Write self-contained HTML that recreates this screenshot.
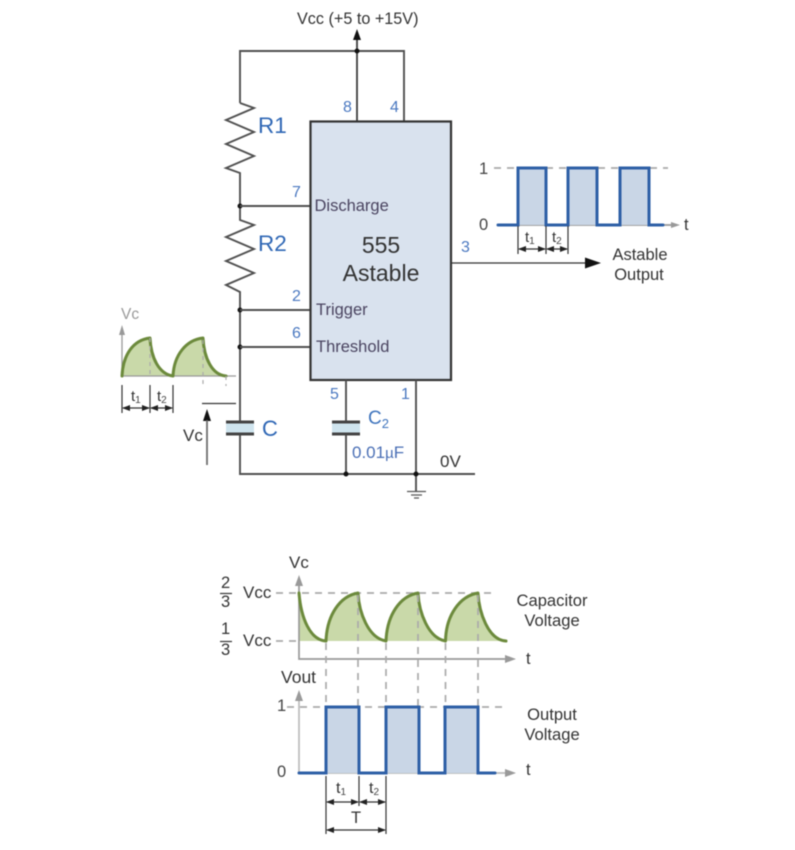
<!DOCTYPE html>
<html><head><meta charset="utf-8"><style>
html,body{margin:0;padding:0;background:#fff}
svg{display:block;filter:blur(0.45px)}
text{font-family:"Liberation Sans",sans-serif;fill:#333}
.p{fill:#4a78c0;font-size:16px}
.b{fill:#2f67b5}
.w{stroke:#505050;stroke-width:1.9;fill:none}
.k{stroke:#333;stroke-width:1.2;fill:none}
.d{stroke:#aaa;stroke-width:1.7;fill:none;stroke-dasharray:7 6}
.a{stroke:#999;stroke-width:1.7;fill:none}
.g{fill:#c9d9a9;stroke:none}
.gl{fill:none;stroke:#6c8a3c;stroke-width:3;stroke-linejoin:round;stroke-linecap:round}
.pf{fill:#c9d6e6;stroke:none}
.pl{fill:none;stroke:#2e5fa6;stroke-width:3;stroke-linejoin:miter;stroke-linecap:round}
.s{font-size:10px}
</style></head><body>
<svg width="795" height="850" viewBox="0 0 795 850" xmlns="http://www.w3.org/2000/svg">
<defs>
<marker id="m" markerWidth="8" markerHeight="6" refX="7" refY="3" orient="auto-start-reverse" markerUnits="userSpaceOnUse"><path d="M0 0L8 3L0 6Z" fill="#222"/></marker>
</defs>

<!-- Top wiring -->
<path class="w" d="M240 103V51H404V121"/>
<path class="k" style="stroke-width:1.7" d="M357 121V38"/>
<path d="M357 29L353 40H361Z" fill="#111"/>
<circle cx="357" cy="51" r="2.5" fill="#111"/>
<text x="297" y="24" font-size="16.200">Vcc (+5 to +15V)</text>
<text class="p" x="343" y="112">8</text>
<text class="p" x="390" y="112">4</text>

<!-- Resistors -->
<path class="w" d="M240 103L254 108L226 120L254 132L226 144L254 156L226 168L240 173V220L254 225L226 237L254 249L226 261L254 273L226 285L240 292V474H475"/>
<text class="b" x="258" y="133" font-size="22.500">R1</text>
<text class="b" x="258" y="251" font-size="22.500">R2</text>
<circle cx="240" cy="206" r="2.5" fill="#111"/>
<circle cx="240" cy="310" r="2.5" fill="#111"/>
<circle cx="240" cy="347" r="2.5" fill="#111"/>
<path class="w" d="M240 206H311M240 310H311M240 347H311"/>
<text class="p" x="292" y="197">7</text>
<text class="p" x="292" y="301">2</text>
<text class="p" x="292" y="338">6</text>

<!-- 555 box -->
<rect x="310.500" y="121.500" width="140.500" height="258.500" fill="#d9e2ee" stroke="#333" stroke-width="2.200"/>
<text x="314.500" y="211" font-size="16.500" style="fill:#4a4460">Discharge</text>
<text x="316" y="315" font-size="16.500" style="fill:#4a4460">Trigger</text>
<text x="316" y="352" font-size="16.500" style="fill:#4a4460">Threshold</text>
<text x="381" y="253" font-size="23" text-anchor="middle">555</text>
<text x="381" y="281" font-size="23" text-anchor="middle">Astable</text>

<!-- Output -->
<path class="k" d="M451 263H588"/>
<path d="M601 263L585 257.500V268.500Z" fill="#111"/>
<text class="p" x="461" y="252">3</text>
<text x="640" y="260" font-size="16.500" text-anchor="middle">Astable</text>
<text x="639" y="280" font-size="16.500" text-anchor="middle">Output</text>

<!-- Top right pulse -->
<path class="d" d="M494 168H668"/>
<path class="a" d="M497 225H672"/>
<path d="M680 225L671 222V228Z" fill="#999"/>
<path class="pf" d="M518 168H546V225H518ZM568 168H597V225H568ZM620 168H649V225H620Z"/>
<path class="pl" d="M498 225H518V168H546V225H568V168H597V225H620V168H649V225H663"/>
<text x="479" y="174" font-size="16.500" style="fill:#444">1</text>
<text x="479" y="230" font-size="16.500" style="fill:#444">0</text>
<text x="684" y="230" font-size="16.500">t</text>
<path class="k" d="M518 226V254M546 226V254M568 226V254"/>
<path class="k" d="M519 249H545" marker-start="url(#m)" marker-end="url(#m)"/>
<path class="k" d="M547 249H567" marker-start="url(#m)" marker-end="url(#m)"/>
<text x="525" y="242" font-size="15">t<tspan class="s" dy="2" style="fill:#444">1</tspan></text>
<text x="552" y="242" font-size="15">t<tspan class="s" dy="2" style="fill:#444">2</tspan></text>

<!-- Left mini plot -->
<path class="g" d="M122 376C123 355 133 340 150 338C151 358 159 374 173 376C174 355 186 340 203 338C204 358 212 375 226 376Z"/>
<path class="a" style="stroke-width:1.3" d="M122 332V376H236"/>
<path d="M122 325L119 335H125Z" fill="#999"/>
<path class="gl" d="M122 376C123 355 133 340 150 338C151 358 159 374 173 376C174 355 186 340 203 338C204 358 212 375 226 376"/>
<path class="d" style="stroke-width:1.2;stroke-dasharray:4 4" d="M150 338V376M203 340V386M226 376V386"/>
<text x="121" y="319" font-size="15.500" style="fill:#999">Vc</text>
<path class="k" d="M122 385V413M150 385V413M173 385V413"/>
<path class="k" d="M123 408H149" marker-start="url(#m)" marker-end="url(#m)"/>
<path class="k" d="M151 408H172" marker-start="url(#m)" marker-end="url(#m)"/>
<text x="131" y="401" font-size="15">t<tspan class="s" dy="2" style="fill:#444">1</tspan></text>
<text x="157" y="401" font-size="15">t<tspan class="s" dy="2" style="fill:#444">2</tspan></text>
<path class="k" d="M202 403.500H236"/>
<path d="M207 409L203 421H211Z" fill="#111"/>
<path class="a" style="stroke:#666" d="M207 420V465"/>
<text x="183" y="441" font-size="17">Vc</text>

<!-- C -->
<rect x="226" y="422" width="28" height="12" fill="#cfe4ee"/>
<path d="M226 422H254M226 434H254" stroke="#444" stroke-width="3" fill="none"/>
<text class="b" x="262" y="436" font-size="22">C</text>

<!-- C2 and pin 1 -->
<path class="w" d="M346 380V421M346 435V474M416 380V491"/>
<rect x="332" y="423" width="28" height="11" fill="#cfe4ee"/>
<path d="M332 422H360M332 434H360" stroke="#444" stroke-width="3" fill="none"/>
<circle cx="346" cy="474" r="2.500" fill="#111"/>
<circle cx="416" cy="474" r="2.500" fill="#111"/>
<text class="p" x="330" y="399">5</text>
<text class="p" x="401" y="399">1</text>
<text class="b" x="368" y="424" font-size="19" style="fill:#3f74bd">C<tspan font-size="13" dy="4">2</tspan></text>
<text x="352" y="458" font-size="17" style="fill:#4a6fb5">0.01<tspan font-size="15">µ</tspan>F</text>
<text x="440" y="467" font-size="17">0V</text>
<path d="M407 491.500H426M411 495H422M414 498H419" stroke="#555" stroke-width="1.300" fill="none"/>

<!-- Bottom plot 1 -->
<path class="g" d="M299 593C301 618 310 640 326 641C327 615 340 596 358 593C359 612 368 638 386 641C387 615 400 596 418 593C419 612 428 638 445.500 641C446 615 460 596 478 593C479 612 488 640 506 641H299Z"/>
<path class="d" d="M276 593H496M276 641H300"/>
<path class="a" d="M299 584V659H507"/>
<path d="M299 575L295 586H303Z" fill="#999"/>
<path d="M516 659L505 655V663Z" fill="#999"/>
<path class="gl" d="M299 593C301 618 310 640 326 641C327 615 340 596 358 593C359 612 368 638 386 641C387 615 400 596 418 593C419 612 428 638 445.500 641C446 615 460 596 478 593C479 612 488 640 506 641"/>
<path class="d" d="M326 643V772M358 595V772M386 643V772M418 595V772M445.500 643V772M478 595V772"/>
<text x="289" y="568" font-size="17">Vc</text>
<text x="526" y="664" font-size="16.500">t</text>
<text x="221" y="588" font-size="16.500">2</text>
<path class="k" d="M220 593.500H232"/>
<text x="221" y="607" font-size="16.500">3</text>
<text x="243" y="598" font-size="17">Vcc</text>
<text x="221" y="634" font-size="16.500">1</text>
<path class="k" d="M220 641.500H232"/>
<text x="221" y="655" font-size="16.500">3</text>
<text x="243" y="646" font-size="17">Vcc</text>
<text x="552" y="606" font-size="16.600" text-anchor="middle">Capacitor</text>
<text x="552" y="626" font-size="16.600" text-anchor="middle">Voltage</text>

<!-- Bottom plot 2 -->
<text x="281" y="683" font-size="17.500">Vout</text>
<path class="d" d="M287 707H506"/>
<path class="a" style="stroke:#bbb" d="M299 699V773H508"/>
<path d="M299 690L295 701H303Z" fill="#999"/>
<path d="M516 773L505 769V777Z" fill="#999"/>
<path class="pf" d="M326 707H359V773H326ZM386 707H419V773H386ZM445 707H478V773H445Z"/>
<path class="pl" d="M299 773H326V707H359V773H386V707H419V773H445V707H478V773H495"/>
<text x="277" y="711" font-size="16.500" style="fill:#444">1</text>
<text x="277" y="777" font-size="16.500" style="fill:#444">0</text>
<text x="526" y="775" font-size="16.500">t</text>
<text x="552" y="720" font-size="16.600" text-anchor="middle">Output</text>
<text x="552" y="740" font-size="16.600" text-anchor="middle">Voltage</text>
<path class="k" d="M326 776V834M359 776V806M386 776V834"/>
<path class="k" d="M327 802H358" marker-start="url(#m)" marker-end="url(#m)"/>
<path class="k" d="M360 802H385" marker-start="url(#m)" marker-end="url(#m)"/>
<path class="k" d="M327 830H385" marker-start="url(#m)" marker-end="url(#m)"/>
<text x="336" y="793" font-size="16">t<tspan class="s" dy="2" style="fill:#444">1</tspan></text>
<text x="369" y="793" font-size="16">t<tspan class="s" dy="2" style="fill:#444">2</tspan></text>
<text x="351" y="823" font-size="16.500">T</text>
</svg>
</body></html>
